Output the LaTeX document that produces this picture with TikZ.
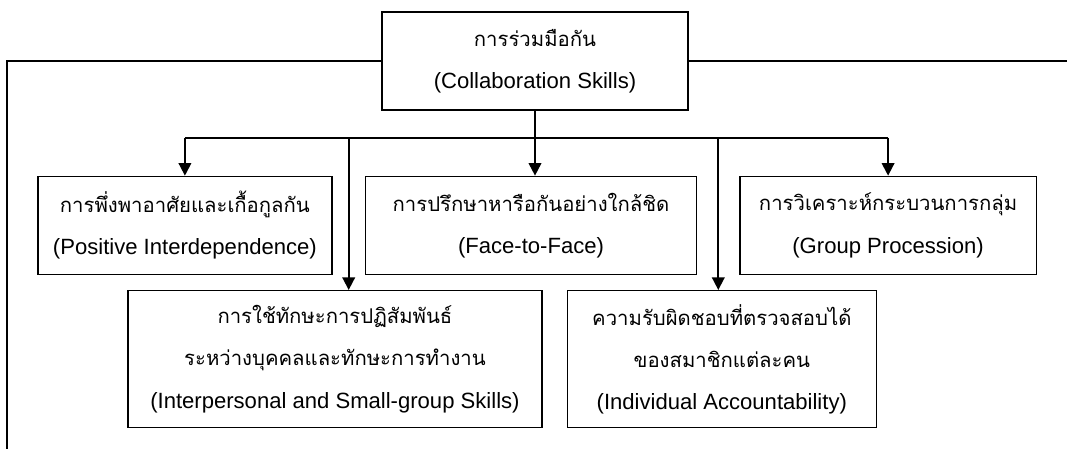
\documentclass[tikz,border=0pt]{standalone}
\usepackage{fontspec}
\setmainfont{Liberation Sans}
\newfontfamily\thaifont[Script=Thai,Scale=0.92]{Loma}
\usetikzlibrary{calc,positioning,arrows.meta}

\begin{document}
\begin{tikzpicture}[x=0.025cm, y=-0.025cm, node distance=1.625cm,
    box/.style={rectangle, draw, line width=0.9pt, inner sep=0pt, align=center, minimum height=2.45cm, font=\fontsize{15.7}{30}\selectfont},
    link/.style={line width=1.3pt, -{Triangle[length=9pt,width=9pt]}}]
    \useasboundingbox (0,0) rectangle (1067,449);
	\node (collab) [box, minimum width=7.65cm] at (535,61) {{\thaifont การร่วมมือกัน}\\(Collaboration Skills)};
	\node (positive) [below=of collab, xshift=-8.75cm, box, minimum width=7.35cm] {{\thaifont การพึ่งพาอาศัยและเกื้อกูลกัน}\\(Positive Interdependence)};
	\node (face) [below=of collab, xshift=-0.1cm, box, minimum width=8.275cm] {{\thaifont การปรึกษาหารือกันอย่างใกล้ชิด}\\(Face-to-Face)};
	\node (group) [below=of collab, xshift=8.825cm, box, minimum width=7.4cm] {{\thaifont การวิเคราะห์กระบวนการกลุ่ม}\\(Group Procession)};
	\node (interp) [below=0.375cm of positive, xshift=3.75cm, box, minimum width=10.35cm, minimum height=3.425cm] {{\thaifont การใช้ทักษะการปฏิสัมพันธ์}\\{\thaifont ระหว่างบุคคลและทักษะการทำงาน}\\(Interpersonal and Small-group Skills)};
	\node (indiv) [right=0.6cm of interp, box, minimum width=7.725cm, minimum height=3.425cm] {{\thaifont ความรับผิดชอบที่ตรวจสอบได้}\\{\thaifont ของสมาชิกแต่ละคน}\\(Individual Accountability)};
    \coordinate (hub) at ($(collab.south)+(0,27)$);
    \coordinate (gapA) at ($(positive.east)!0.5!(face.west)$);
    \coordinate (gapB) at ($(face.east)!0.5!(group.west)$);
    \coordinate (lbot) at (7,449);
    \coordinate (rend) at (1067,0);
    \draw [line width=0.9pt] (collab.west) -| (lbot) (collab.east) -- (collab.east -| rend);
    \draw [line width=1.3pt] (hub -| positive.north) -- (hub -| group.north);
    \path [link] (hub -| positive.north) edge (positive.north)
       (collab.south) edge (collab.south |- face.north)
       (hub -| group.north) edge (group.north)
       (hub -| gapA) edge (gapA |- interp.north)
       (hub -| gapB) edge (gapB |- indiv.north);
\end{tikzpicture}
\end{document}
